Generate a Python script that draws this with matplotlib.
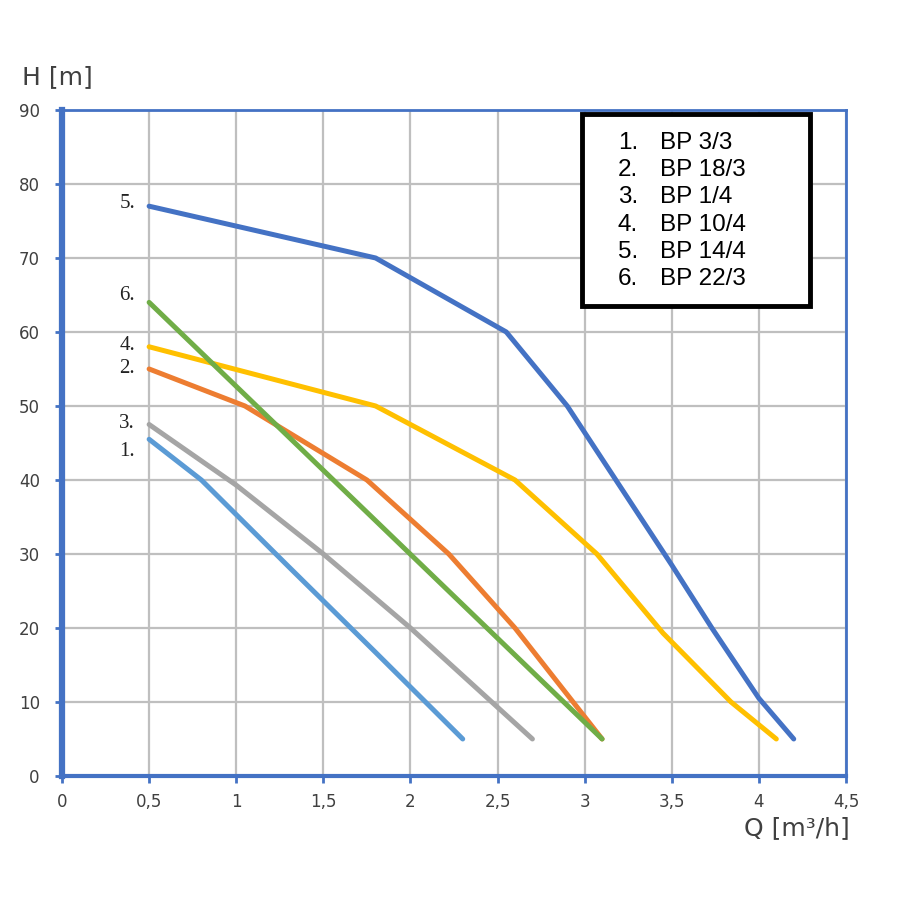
import matplotlib
matplotlib.use("Agg")
import matplotlib.pyplot as plt
from matplotlib.patches import Rectangle

# pump curves: flow Q [m3/h] vs head H [m]
q1 = [0.5, 0.8, 1.3, 1.8, 2.3]
h1 = [45.5, 40, 28.3, 16.7, 5]
q2 = [0.5, 1.05, 1.75, 2.22, 2.6, 3.1]
h2 = [55, 50, 40, 30, 20, 5]
q3 = [0.5, 1.0, 1.5, 2.0, 2.7]
h3 = [47.5, 39.3, 30, 20, 5]
q4 = [0.5, 1.8, 2.6, 3.07, 3.45, 3.84, 4.1]
h4 = [58, 50, 40, 30, 19.3, 10, 5]
q5 = [0.5, 1.8, 2.55, 2.9, 3.5, 3.73, 4.0, 4.2]
h5 = [77, 70, 60, 50, 28.5, 20, 10.5, 5]
q6 = [0.5, 1.8, 3.1]
h6 = [64, 34.5, 5]

curves = [(q1, h1), (q2, h2), (q3, h3), (q4, h4), (q5, h5), (q6, h6)]
colors = ['#5B9BD5', '#ED7D31', '#A5A5A5', '#FFC000', '#4472C4', '#70AD47']
names = ['BP 3/3', 'BP 18/3', 'BP 1/4', 'BP 10/4', 'BP 14/4', 'BP 22/3']

x_ticks = [0, 0.5, 1, 1.5, 2, 2.5, 3, 3.5, 4, 4.5]
y_ticks = [0, 10, 20, 30, 40, 50, 60, 70, 80, 90]

axis_blue = '#4472C4'
text_col = '#404040'

fig = plt.figure(figsize=(9, 9), dpi=100)
ax = fig.add_axes([0.0689, 0.1378, 0.8711, 0.74])

# draw order so green sits above orange like the original
order = [0, 2, 1, 3, 4, 5]
for i in order:
    q, h = curves[i]
    ax.plot(q, h, color=colors[i], lw=3.6, solid_capstyle='round',
            solid_joinstyle='round', zorder=3)

# number labels next to the start of each curve
label_offsets = {0: -1.7, 1: 0.1, 2: 0.1, 3: 0.2, 4: 0.3, 5: 0.9}
for i, (q, h) in enumerate(curves):
    ax.text(q[0] - 0.08, h[0] + label_offsets[i], f'{i + 1}.', ha='right',
            va='center', fontsize=15, family='Liberation Serif',
            color='#222222')

ax.set_xlim(0, 4.5)
ax.set_ylim(0, 90)
ax.set_xticks(x_ticks)
ax.set_yticks(y_ticks)
ax.set_xticklabels([str(v).replace('.', ',') if v != int(v) else str(int(v))
                    for v in x_ticks])
ax.set_yticklabels([str(v) for v in y_ticks])
ax.grid(True, color='#BFBFBF', lw=1.6, zorder=0)
ax.set_axisbelow(True)

for side, w in [('left', 4.5), ('bottom', 3), ('top', 2), ('right', 2)]:
    ax.spines[side].set_color(axis_blue)
    ax.spines[side].set_linewidth(w)

ax.tick_params(axis='x', direction='out', length=5, width=2, color=axis_blue,
               labelsize=12, labelcolor=text_col, pad=7)
ax.tick_params(axis='y', direction='out', length=5, width=2, color=axis_blue,
               labelsize=12, labelcolor=text_col, pad=11)

fig.text(0.024, 0.914, 'H [m]', fontsize=18, color=text_col, ha='left', va='center')
fig.text(0.944, 0.08, 'Q [m³/h]', fontsize=18, color=text_col, ha='right',
         va='center')

# legend box drawn by hand like the original text box
ax.add_patch(Rectangle((0.663, 0.706), 0.291, 0.288, transform=ax.transAxes,
                       facecolor='white', edgecolor='black', lw=3.5,
                       zorder=5, clip_on=False))
for i, n in enumerate(names):
    y = 0.951 - i * 0.0411
    ax.text(0.709, y, f'{i + 1}.', transform=ax.transAxes, ha='left',
            va='center', fontsize=17.5, family='Liberation Sans',
            color='black', zorder=6)
    ax.text(0.763, y, n, transform=ax.transAxes, ha='left', va='center',
            fontsize=17.5, family='Liberation Sans', color='black', zorder=6)

fig.savefig('out.png', dpi=100)
